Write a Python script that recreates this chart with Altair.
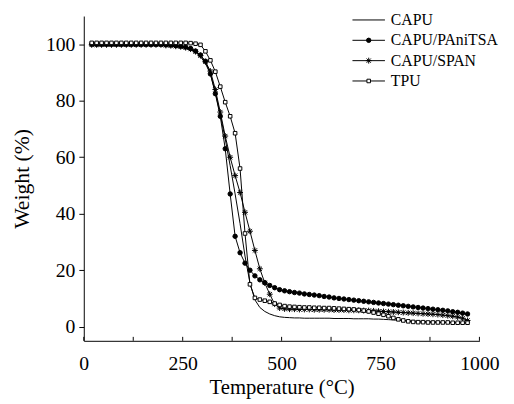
import altair as alt
import pandas as pd

# ---------------- data ----------------
temperature = [20, 32.5, 45, 57.5, 70, 82.5, 95, 107.5, 120, 132.5, 145, 157.5, 170, 182.5,
               195, 207.5, 220, 232.5, 245, 257.5, 270, 282.5, 295, 307.5, 320, 332.5, 345,
               357.5, 370, 382.5, 395, 407.5, 420, 432.5, 445, 457.5, 470, 482.5, 495, 507.5,
               520, 532.5, 545, 557.5, 570, 582.5, 595, 607.5, 620, 632.5, 645, 657.5, 670,
               682.5, 695, 707.5, 720, 732.5, 745, 757.5, 770, 782.5, 795, 807.5, 820, 832.5,
               845, 857.5, 870, 882.5, 895, 907.5, 920, 932.5, 945, 957.5, 970]

capu = [99.5, 99.5, 99.5, 99.5, 99.5, 99.5, 99.5, 99.5, 99.5, 99.5, 99.5, 99.5, 99.5, 99.5,
        99.5, 99.4, 99.3, 99.1, 98.9, 98.6, 98.1, 97.2, 95.6, 93.2, 89.5, 83.0, 75.0,
        66.5, 57.0, 47.0, 36.5, 25.0, 15.5, 9.5, 6.8, 5.4, 4.5, 3.9, 3.5, 3.3,
        3.2, 3.1, 3.1, 3.0, 3.0, 3.0, 3.0, 3.0, 3.0, 2.9, 2.9, 2.9, 2.9,
        2.8, 2.8, 2.8, 2.8, 2.7, 2.7, 2.6, 2.5, 2.4, 2.3, 2.2, 2.1, 2.0,
        1.9, 1.9, 1.8, 1.8, 1.7, 1.6, 1.6, 1.5, 1.4, 1.3, 1.2]

capu_panitsa = [100.0, 100.0, 100.0, 100.0, 100.0, 100.0, 100.0, 100.0, 100.0, 100.0, 100.0,
                100.0, 100.0, 100.0, 100.0, 99.8, 99.7, 99.5, 99.3, 99.0, 98.5, 97.6, 96.2,
                94.0, 89.5, 82.5, 74.5, 63.0, 47.0, 32.0, 26.2, 22.5, 20.0, 18.0, 16.6, 15.6,
                14.6, 13.8, 13.1, 12.7, 12.4, 12.1, 11.9, 11.6, 11.4, 11.2, 11.0, 10.7, 10.5,
                10.2, 10.0, 9.8, 9.6, 9.4, 9.2, 9.0, 8.8, 8.6, 8.4, 8.2, 8.0, 7.8, 7.6, 7.4,
                7.2, 7.0, 6.8, 6.6, 6.4, 6.2, 6.0, 5.8, 5.6, 5.3, 5.1, 4.8, 4.5]

capu_span = [99.8, 99.8, 99.8, 99.8, 99.8, 99.8, 99.8, 99.8, 99.8, 99.8, 99.8, 99.8, 99.8,
             99.8, 99.8, 99.6, 99.5, 99.3, 99.1, 98.8, 98.3, 97.4, 96.0, 93.8, 90.5, 84.0,
             76.0, 67.5, 60.0, 53.5, 47.5, 40.5, 33.8, 27.0, 20.5, 15.5, 11.5, 8.0, 6.6,
             6.3, 6.2, 6.2, 6.1, 6.1, 6.1, 6.0, 6.0, 6.0, 6.0, 5.9, 5.9, 5.9, 5.8, 5.8, 5.8,
             5.7, 5.7, 5.6, 5.5, 5.4, 5.3, 5.2, 5.1, 5.0, 4.9, 4.8, 4.7, 4.6, 4.5, 4.4, 4.3,
             4.1, 3.9, 3.7, 3.4, 3.0, 2.2]

tpu = [100.5, 100.5, 100.5, 100.5, 100.5, 100.5, 100.5, 100.5, 100.5, 100.5, 100.5, 100.5,
       100.5, 100.5, 100.5, 100.5, 100.5, 100.5, 100.5, 100.5, 100.4, 100.2, 99.8, 97.5,
       94.3, 90.3, 85.0, 79.5, 74.5, 68.5, 56.0, 33.0, 15.0, 10.2, 9.6, 9.2, 8.8, 8.2,
       7.7, 7.3, 7.1, 7.0, 6.9, 6.8, 6.8, 6.7, 6.7, 6.6, 6.6, 6.5, 6.4, 6.3, 6.2, 6.1,
       5.9, 5.7, 5.4, 5.0, 4.6, 4.2, 3.7, 3.1, 2.6, 2.2, 1.9, 1.7, 1.6, 1.6, 1.5, 1.5,
       1.5, 1.5, 1.5, 1.4, 1.4, 1.4, 1.4]

series_names = ["CAPU", "CAPU/PAniTSA", "CAPU/SPAN", "TPU"]
x_tick_values = [0, 125, 250, 375, 500, 625, 750, 875, 1000]
y_tick_values = [0, 10, 20, 30, 40, 50, 60, 70, 80, 90, 100]

# ---------------- table ----------------
rows = []
for name, vals in zip(series_names, [capu, capu_panitsa, capu_span, tpu]):
    for t, w in zip(temperature, vals):
        rows.append({"T": t, "W": w, "series": name})
df = pd.DataFrame(rows)
ticks_df = pd.DataFrame({"T": x_tick_values})
legend_df = pd.DataFrame({"series": series_names})

SERIF = "Times New Roman, Liberation Serif, DejaVu Serif, serif"
ASTERISK = "M-1,0L1,0M0,-1L0,1M-0.72,-0.72L0.72,0.72M-0.72,0.72L0.72,-0.72"

# marker style per series: (shape, size, fill)
marker_style = {
    "CAPU/PAniTSA": ("circle", 20, "black"),
    "CAPU/SPAN": (ASTERISK, 36, "white"),
    "TPU": ("square", 13, "white"),
}

PLOT_W, PLOT_H = 402, 330

x_scale = alt.Scale(domain=[0, 1000], nice=False, zero=False)
y_scale = alt.Scale(domain=[-5, 110], nice=False, zero=False)

x_axis = alt.Axis(
    values=x_tick_values,
    labelExpr="datum.value % 250 == 0 ? datum.label : ''",
    format="d",
    ticks=False,
    grid=False,
    labelFlush=False,
    domainColor="black",
    domainWidth=1,
    labelFont=SERIF,
    labelFontSize=20,
    labelColor="black",
    labelPadding=13,
    title="Temperature (°C)",
    titleFont=SERIF,
    titleFontSize=21,
    titleFontWeight="normal",
    titleColor="black",
    titlePadding=4,
)

y_axis = alt.Axis(
    values=y_tick_values,
    labelExpr="datum.value % 20 == 0 ? datum.label : ''",
    format="d",
    ticks=True,
    tickSize=5,
    tickColor="black",
    grid=False,
    labelFlush=False,
    domainColor="black",
    domainWidth=1,
    labelFont=SERIF,
    labelFontSize=20,
    labelColor="black",
    labelPadding=4,
    title="Weight (%)",
    titleFont=SERIF,
    titleFontSize=22,
    titleFontWeight="normal",
    titleColor="black",
    titlePadding=12,
)

lines = alt.Chart(df).mark_line(color="black", strokeWidth=1).encode(
    x=alt.X("T:Q", scale=x_scale, axis=x_axis),
    y=alt.Y("W:Q", scale=y_scale, axis=y_axis),
    detail="series:N",
)

marker_layers = []
for name, (shape, size, fill) in marker_style.items():
    marker_layers.append(
        alt.Chart(df[df["series"] == name]).mark_point(
            shape=shape, size=size, filled=True, fill=fill, stroke="black",
            strokeWidth=1, opacity=1,
        ).encode(
            x=alt.X("T:Q", scale=x_scale),
            y=alt.Y("W:Q", scale=y_scale),
        )
    )

inner_ticks = alt.Chart(ticks_df).mark_rule(color="black", strokeWidth=1).encode(
    x=alt.X("T:Q", scale=x_scale),
    y=alt.value(PLOT_H),
    y2=alt.value(PLOT_H - 4),
)

main = alt.layer(lines, *marker_layers, inner_ticks)

legend_y = alt.Y("series:N", scale=alt.Scale(type="point", domain=series_names, range=[4, 66], padding=0), axis=None)

leg_rule = alt.Chart(legend_df).mark_rule(color="black", strokeWidth=1).encode(
    x=alt.value(273), x2=alt.value(306), y=legend_y,
)
leg_pts = []
for name, (shape, size, fill) in marker_style.items():
    leg_pts.append(
        alt.Chart(legend_df[legend_df["series"] == name]).mark_point(
            shape=shape, size=size, filled=True, fill=fill, stroke="black",
            strokeWidth=1, opacity=1,
        ).encode(x=alt.value(289.5), y=legend_y)
    )
leg_text = alt.Chart(legend_df).mark_text(
    align="left", baseline="middle", font=SERIF, fontSize=16, color="black"
).encode(
    x=alt.value(312), y=legend_y, text="series:N",
)
legend = alt.layer(leg_rule, *leg_pts, leg_text)

chart = (
    alt.layer(main, legend)
    .resolve_scale(y="independent")
    .properties(
        width=PLOT_W,
        height=PLOT_H,
        autosize="none",
        padding={"left": 77, "top": 5, "right": 27, "bottom": 58},
        background="white",
    )
    .configure_view(stroke=None)
)

chart.save("out.html", embed_options={"renderer": "svg", "actions": False})
